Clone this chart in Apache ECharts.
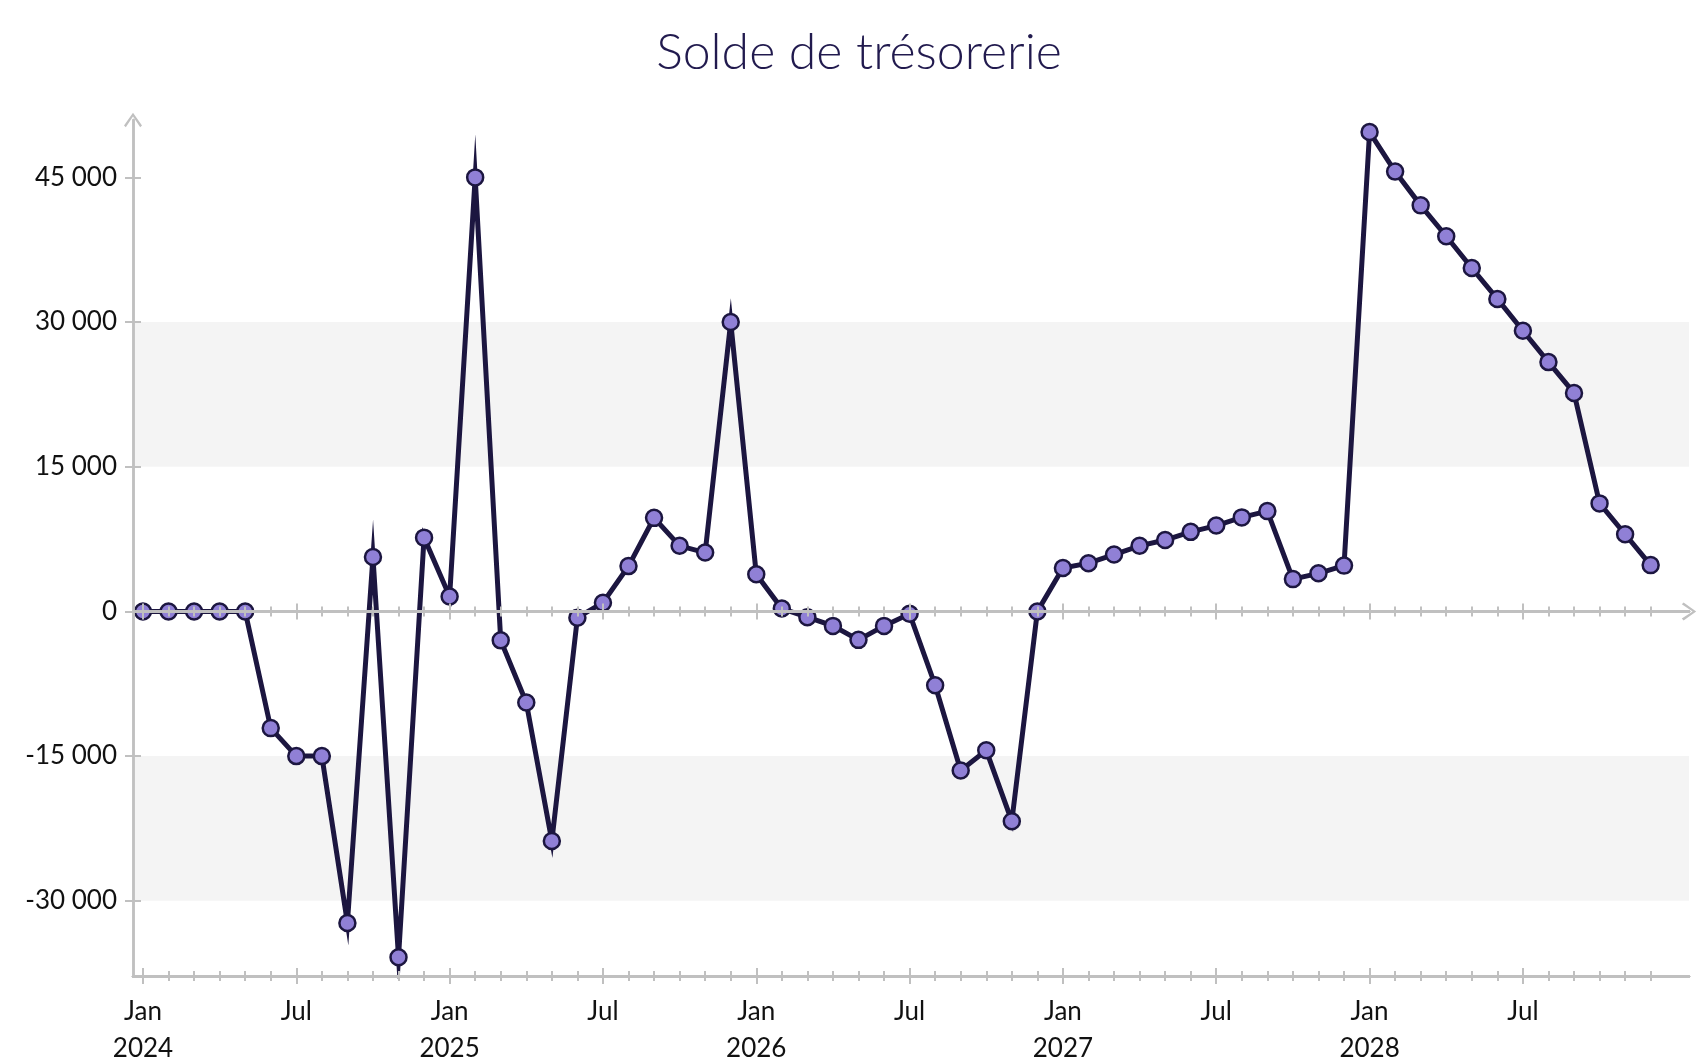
<!DOCTYPE html>
<html>
<head>
<meta charset="utf-8">
<title>Solde de trésorerie</title>
<script src="https://cdn.jsdelivr.net/npm/echarts@6/dist/echarts.min.js"></script>
<style>
  html, body { margin: 0; padding: 0; background: #fff; }
  #chart { width: 1700px; height: 1064px; }
</style>
</head>
<body>
<div id="chart"></div>
<script>
// monthly balance, Jan 2024 -> Dec 2028
const solde = [
  0, 0, 0, 0, 0, -12100, -15000, -15000, -32300, 5650, -35850, 7650,
  1550, 45000, -3000, -9450, -23800, -650, 900, 4700, 9700, 6800, 6100, 30000,
  3850, 300, -600, -1500, -2950, -1500, -250, -7650, -16500, -14400, -21750, 0,
  4500, 5000, 5900, 6800, 7400, 8250, 8900, 9750, 10400, 3350, 3950, 4750,
  49700, 45600, 42100, 38900, 35600, 32400, 29100, 25850, 22650, 11200, 8000, 4800
]
const monthTicks = solde.map((_, i) => i)
const labelTicks = [0, 6, 12, 18, 24, 30, 36, 42, 48, 54]
const xLabels = ['Jan\n2024', 'Jul', 'Jan\n2025', 'Jul', 'Jan\n2026', 'Jul', 'Jan\n2027', 'Jul', 'Jan\n2028', 'Jul']
const yTicks = [-30000, -15000, 0, 15000, 30000, 45000]
const bands = [[15000, 30000], [-30000, -15000]]

const AXIS = '#c0c0c0'
const FONT = 'Lato, "Open Sans", sans-serif'
const arrow = 'path://M10,0 L20,14 L18,16 L10,4 L2,16 L0,14 Z'
const X_MIN = -0.39, X_MAX = 60.5
const Y_MIN = -37800, Y_MAX = 50950

function fmtNum(v) {
  const s = String(Math.abs(v)).replace(/\B(?=(\d{3})+(?!\d))/g, ' ')
  return (v < 0 ? '-' : '') + s
}

function xAxisDef(onZero, inside, ticks, len, withArrow, withLabels) {
  return {
    type: 'value', min: X_MIN, max: X_MAX, position: 'bottom', z: 5,
    splitLine: { show: false },
    axisLine: {
      show: true, onZero: onZero, onZeroAxisIndex: 0,
      symbol: withArrow ? ['none', arrow] : 'none', symbolSize: [18, 18],
      lineStyle: { color: AXIS, width: 2.5 }
    },
    axisTick: { show: true, inside: inside, length: len, customValues: ticks, lineStyle: { color: AXIS, width: 2 } },
    axisLabel: withLabels ? {
      customValues: labelTicks,
      formatter: v => xLabels[labelTicks.indexOf(Math.round(v))] || '',
      margin: 17, fontSize: 26, lineHeight: 37, color: '#111', fontFamily: FONT
    } : { show: false }
  }
}

function yAxisDef(inside, main) {
  return {
    type: 'value', min: Y_MIN, max: Y_MAX, position: 'left', z: 5,
    splitLine: { show: false },
    axisLine: {
      show: true, onZero: false,
      symbol: main ? ['none', arrow] : 'none', symbolSize: [18, 18],
      lineStyle: { color: AXIS, width: 2.5 }
    },
    axisTick: { show: true, inside: inside, length: 8, customValues: yTicks, lineStyle: { color: AXIS, width: 2 } },
    axisLabel: main ? {
      customValues: yTicks, formatter: fmtNum,
      margin: 16, fontSize: 26, color: '#111', fontFamily: FONT
    } : { show: false }
  }
}

const chart = echarts.init(document.getElementById('chart'))

chart.setOption({
  animation: false,
  backgroundColor: '#fff',
  title: {
    text: 'Solde de trésorerie',
    left: 859, top: 28, textAlign: 'center', padding: 0,
    textStyle: { fontFamily: FONT, fontWeight: 300, fontSize: 50, color: '#211a4e' }
  },
  grid: { left: 133, right: 11, top: 120, bottom: 88, outerBoundsMode: 'none' },
  xAxis: [
    xAxisDef(true, false, monthTicks, 5, true, false),
    xAxisDef(true, true, monthTicks, 5, false, false),
    xAxisDef(true, false, labelTicks, 8, false, false),
    xAxisDef(true, true, labelTicks, 8, false, false),
    xAxisDef(false, false, monthTicks, 5, false, false),
    xAxisDef(false, true, monthTicks, 5, false, false),
    xAxisDef(false, false, labelTicks, 8, false, true),
    xAxisDef(false, true, labelTicks, 8, false, false)
  ],
  yAxis: [yAxisDef(false, true), yAxisDef(true, false)],
  series: [{
    type: 'line',
    xAxisIndex: 0, yAxisIndex: 0,
    data: solde.map((v, i) => [i, v]),
    symbol: 'circle', symbolSize: 16,
    lineStyle: { color: '#1c1640', width: 5, join: 'miter', miterLimit: 20 },
    itemStyle: { color: '#9080d6', borderColor: '#1c1640', borderWidth: 2.5 },
    markArea: {
      silent: true,
      itemStyle: { color: '#f4f4f4' },
      data: bands.map(b => [{ yAxis: b[0] }, { yAxis: b[1] }])
    }
  }]
})
</script>
</body>
</html>
